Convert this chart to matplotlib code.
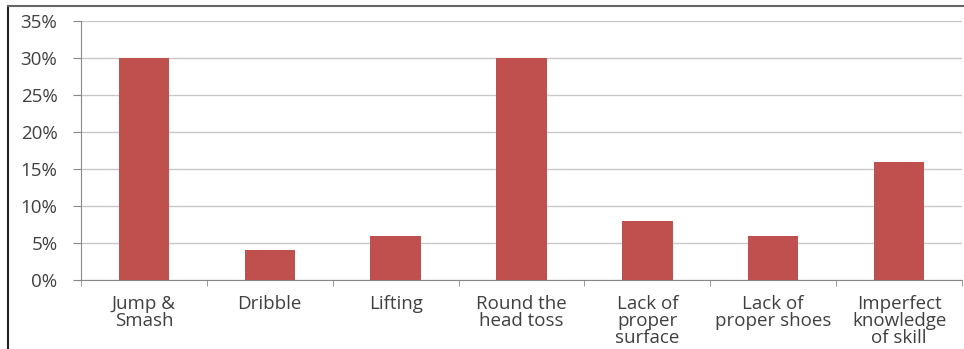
import matplotlib
matplotlib.use("Agg")
import matplotlib.pyplot as plt
from matplotlib.lines import Line2D
from matplotlib.ticker import FixedLocator

categories = ["Jump &\nSmash", "Dribble", "Lifting", "Round the\nhead toss",
              "Lack of\nproper\nsurface", "Lack of\nproper shoes",
              "Imperfect\nknowledge\nof skill"]
values = [30, 4, 6, 30, 8, 6, 16]
y_ticks = [0, 5, 10, 15, 20, 25, 30, 35]

plt.rcParams['font.family'] = ['Open Sans', 'DejaVu Sans']
text_color = "#404040"
bar_color = "#C0504D"

fig = plt.figure(figsize=(9.64, 3.49), dpi=100)
ax = fig.add_axes([81/964, 1 - 280/349, 881/964, 259/349])

x = list(range(len(categories)))
ax.bar(x, values, width=0.4, color=bar_color, zorder=3)

ax.set_xlim(-0.5, len(categories) - 0.5)
ax.set_ylim(0, 35)
ax.set_yticks(y_ticks)
ax.set_yticklabels([f"{v}%" for v in y_ticks], fontsize=13.5, color=text_color)
ax.yaxis.grid(True, color="#C8C8C8", linewidth=1.0, zorder=0)

ax.set_xticks(x)
ax.set_xticklabels(categories, fontsize=13.5, color=text_color, linespacing=0.93)
ax.tick_params(axis="x", which="major", length=0, pad=11)
ax.xaxis.set_minor_locator(FixedLocator([i - 0.5 for i in range(len(categories) + 1)]))
ax.tick_params(axis="x", which="minor", length=4, color="#888888", direction="out")
ax.tick_params(axis="y", length=6, color="#888888", direction="out", pad=11)

for side in ["top", "right"]:
    ax.spines[side].set_visible(False)
ax.spines["left"].set_color("#888888")
ax.spines["bottom"].set_color("#888888")

# frame lines around the figure
fig.add_artist(Line2D([8/964, 8/964], [0, 1 - 6/349], transform=fig.transFigure,
                      color="#222222", linewidth=1.5))
fig.add_artist(Line2D([8/964, 1], [1 - 6/349, 1 - 6/349], transform=fig.transFigure,
                      color="#666666", linewidth=1.5))

fig.savefig("out.png", dpi=100)
